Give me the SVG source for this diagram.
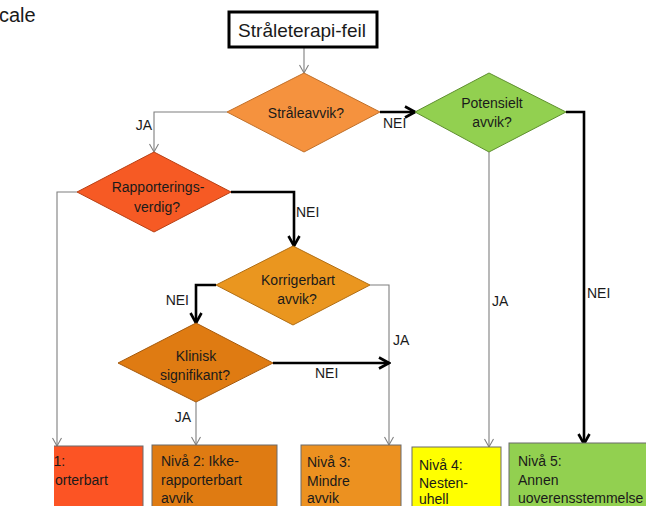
<svg xmlns="http://www.w3.org/2000/svg" width="646" height="506" viewBox="0 0 646 506">
  <style>
    text { font-family: "Liberation Sans", Arial, sans-serif; fill: #1a1a1a; }
    .t14 { font-size: 14px; }
    .mid { text-anchor: middle; }
    .end { text-anchor: end; }
    .dia { stroke-width: 1; }
    .box { stroke: #6a6a6a; stroke-width: 1; }
    .thin { fill: none; stroke: #7f7f7f; stroke-width: 1.1; marker-end: url(#openThin); }
    .thick { fill: none; stroke: #000; stroke-width: 2.6; marker-end: url(#openThick); }
  </style>
  <defs>
    <marker id="openThin" markerUnits="userSpaceOnUse" markerWidth="12" markerHeight="12" viewBox="0 0 12 12" refX="10" refY="6" orient="auto">
      <path d="M2,1.5 L10,6 L2,10.5" fill="none" stroke="#7f7f7f" stroke-width="1.1"/>
    </marker>
    <marker id="openThick" markerUnits="userSpaceOnUse" markerWidth="14" markerHeight="14" viewBox="0 0 14 14" refX="12" refY="7" orient="auto">
      <path d="M2,1.5 L12,7 L2,12.5" fill="none" stroke="#000" stroke-width="2.6"/>
    </marker>
    <clipPath id="clipLeft">
      <rect x="54" y="0" width="592" height="506"/>
    </clipPath>
  </defs>

  <rect width="646" height="506" fill="#fff"/>

  <text x="-1" y="22" style="font-size:20px">cale</text>

  <!-- connectors -->
  <g id="connectors">
    <path class="thin" d="M304,48 L304,73"/>
    <path class="thin" d="M227,112 L154,112 L154,152"/>
    <path class="thick" d="M380,112 L415,112"/>
    <path class="thick" d="M566,112 L584,112 L584,444"/>
    <path class="thin" d="M489,152 L489,447"/>
    <path class="thin" d="M77,192 L57,192 L57,446"/>
    <path class="thick" d="M231,192 L294,192 L294,246"/>
    <path class="thick" d="M216,285 L196,285 L196,323"/>
    <path class="thin" d="M370,285 L389,285 L389,445"/>
    <path class="thick" d="M273,363 L389,363"/>
    <path class="thin" d="M196,402 L196,445"/>

    <g class="t14">
      <text x="152" y="130" class="end">JA</text>
      <text x="383" y="128">NEI</text>
      <text x="296" y="217">NEI</text>
      <text x="189" y="305" class="end">NEI</text>
      <text x="393" y="345">JA</text>
      <text x="315" y="378">NEI</text>
      <text x="191" y="422" class="end">JA</text>
      <text x="492" y="306">JA</text>
      <text x="587" y="298">NEI</text>
    </g>
  </g>

  <!-- start node -->
  <g id="start">
    <rect x="229" y="12" width="148" height="35" fill="#fff" stroke="#000" stroke-width="3"/>
    <text x="302" y="37" class="mid" style="font-size:19px">Stråleterapi-feil</text>
  </g>

  <!-- decisions -->
  <g id="straleavvik">
    <polygon class="dia" points="304,73 380,112 304,152 227,112" fill="#F5923E" stroke="#c0702a"/>
    <text x="306" y="118" class="t14 mid">Stråleavvik?</text>
  </g>

  <g id="potensielt">
    <polygon class="dia" points="489,73 566,112 489,152 415,112" fill="#92D050" stroke="#5f8f30"/>
    <text x="492" y="108" class="t14 mid">Potensielt</text>
    <text x="492" y="127" class="t14 mid">avvik?</text>
  </g>

  <g id="rapporterings">
    <polygon class="dia" points="154,152 231,192 154,232 77,192" fill="#F65A24" stroke="#b84014"/>
    <text x="158" y="192" class="t14 mid">Rapporterings-</text>
    <text x="157" y="212" class="t14 mid">verdig?</text>
  </g>

  <g id="korrigerbart">
    <polygon class="dia" points="293,246 370,285 293,325 216,285" fill="#EA961F" stroke="#b06e14"/>
    <text x="298" y="285" class="t14 mid">Korrigerbart</text>
    <text x="297" y="304" class="t14 mid">avvik?</text>
  </g>

  <g id="klinisk">
    <polygon class="dia" points="196,323 273,363 196,402 118,363" fill="#DF7B12" stroke="#a65a0c"/>
    <text x="196" y="361" class="t14 mid">Klinisk</text>
    <text x="195" y="380" class="t14 mid">signifikant?</text>
  </g>

  <!-- outcome levels -->
  <g id="niva1" clip-path="url(#clipLeft)">
    <rect class="box" x="40" y="446" width="103" height="70" fill="#FC5424"/>
    <text x="53.4" y="466" class="t14">1:</text>
    <text x="55" y="485" class="t14">orterbart</text>
  </g>

  <g id="niva2">
    <rect class="box" x="152" y="445" width="125" height="70" fill="#DF7B12"/>
    <text x="161" y="466" class="t14">Nivå 2: Ikke-</text>
    <text x="161" y="485" class="t14">rapporterbart</text>
    <text x="161" y="503" class="t14">avvik</text>
  </g>

  <g id="niva3">
    <rect class="box" x="301" y="445" width="100" height="70" fill="#EC9120"/>
    <text x="307" y="467" class="t14">Nivå 3:</text>
    <text x="307" y="486" class="t14">Mindre</text>
    <text x="307" y="503" class="t14">avvik</text>
  </g>

  <g id="niva4">
    <rect class="box" x="412" y="447" width="89" height="70" fill="#FFFF00"/>
    <text x="419" y="470" class="t14">Nivå 4:</text>
    <text x="419" y="488" class="t14">Nesten-</text>
    <text x="419" y="504" class="t14">uhell</text>
  </g>

  <g id="niva5">
    <rect class="box" x="509" y="443" width="150" height="70" fill="#92D050"/>
    <text x="518" y="466" class="t14">Nivå 5:</text>
    <text x="518" y="485" class="t14">Annen</text>
    <text x="518" y="503" class="t14">uoverensstemmelse</text>
  </g>
</svg>
